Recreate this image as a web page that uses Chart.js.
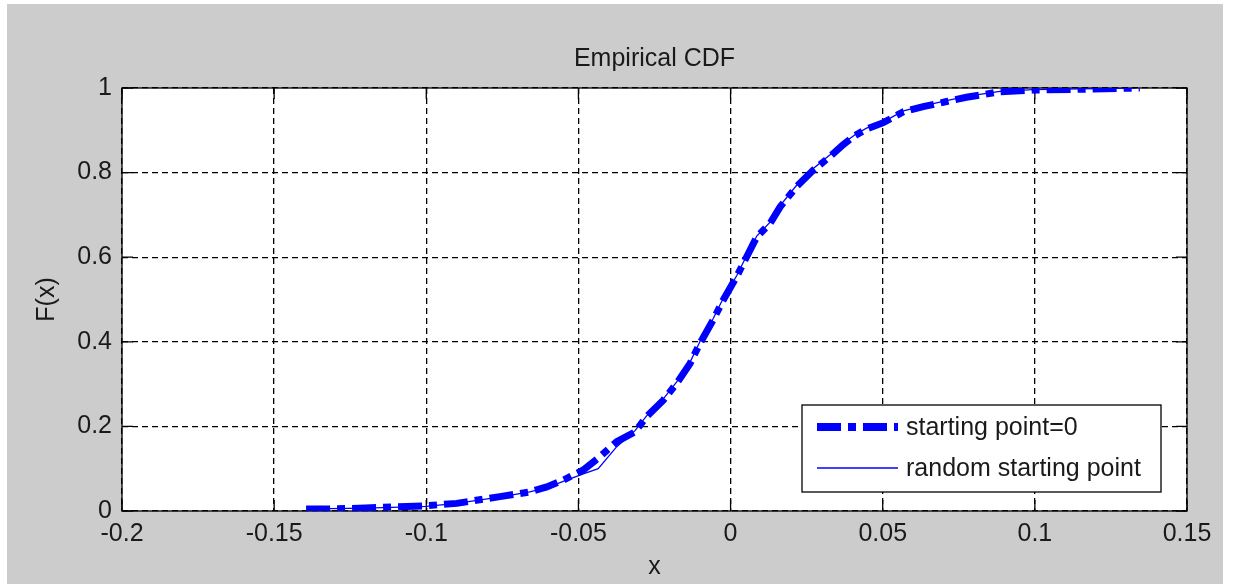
<!DOCTYPE html>
<html lang="en">
<head>
    <meta charset="UTF-8">
    <title>Empirical CDF</title>
    <style>
        body {
            margin: 0;
            padding: 0;
            background-color: #ffffff;
        }
        #cdfChart {
            display: block;
        }
    </style>
    <script src="https://cdn.jsdelivr.net/npm/chart.js"></script>
</head>
<body>
    <canvas id="cdfChart" width="1233" height="584"></canvas>

    <script>
        // axis ticks
        const xTickValues = [-0.2, -0.15, -0.1, -0.05, 0, 0.05, 0.1, 0.15];
        const xTickLabels = ['-0.2', '-0.15', '-0.1', '-0.05', '0', '0.05', '0.1', '0.15'];
        const yTickValues = [0, 0.2, 0.4, 0.6, 0.8, 1];
        const yTickLabels = ['0', '0.2', '0.4', '0.6', '0.8', '1'];

        // empirical CDF, starting point = 0
        const xStart = [-0.1395, -0.13, -0.12, -0.11, -0.101, -0.09, -0.0758, -0.066, -0.0604, -0.055,
            -0.0484, -0.0435, -0.0374, -0.0314, -0.0276, -0.0221, -0.0177, -0.0133, -0.0101, -0.0057,
            -0.0024, 0.002, 0.0053, 0.0086, 0.013, 0.0163, 0.0217, 0.0272, 0.0327, 0.037,
            0.041, 0.0447, 0.0502, 0.0568, 0.0633, 0.071, 0.0775, 0.0885, 0.0994, 0.115, 0.1345];
        const yStart = [0.005, 0.005, 0.007, 0.010, 0.012, 0.018, 0.034, 0.045, 0.057, 0.073,
            0.097, 0.125, 0.164, 0.187, 0.223, 0.262, 0.302, 0.349, 0.396, 0.452,
            0.499, 0.554, 0.601, 0.648, 0.680, 0.719, 0.767, 0.806, 0.838, 0.866,
            0.888, 0.903, 0.918, 0.944, 0.956, 0.968, 0.978, 0.991, 0.995, 0.997, 1.0];

        // empirical CDF, random starting point
        const xRandom = [-0.138, -0.12, -0.1, -0.09, -0.076, -0.066, -0.06, -0.055, -0.0484, -0.0435,
            -0.0374, -0.0314, -0.0276, -0.0221, -0.0177, -0.0133, -0.0101, -0.0057, -0.0024, 0.002,
            0.0053, 0.0086, 0.013, 0.0163, 0.0217, 0.0272, 0.0327, 0.037, 0.041, 0.0447, 0.0502,
            0.0568, 0.0633, 0.071, 0.0775, 0.0885, 0.0994, 0.115, 0.133];
        const yRandom = [0.005, 0.007, 0.011, 0.018, 0.033, 0.045, 0.056, 0.07, 0.088, 0.1,
            0.152, 0.19, 0.225, 0.265, 0.305, 0.352, 0.4, 0.455, 0.503, 0.556,
            0.604, 0.65, 0.683, 0.722, 0.77, 0.81, 0.842, 0.869, 0.89, 0.905, 0.92,
            0.946, 0.958, 0.97, 0.98, 0.992, 0.996, 0.998, 1.0];

        const seriesNames = ['starting point=0', 'random starting point'];

        const lineBlue = '#0000ff';
        const dashStyle = [24, 7, 8, 7];
        const textColor = '#1a1a1a';

        Chart.defaults.font.family = "'Liberation Sans', Arial, sans-serif";
        Chart.defaults.font.size = 25;
        Chart.defaults.color = textColor;

        const toPoints = (xs, ys) => xs.map((x, i) => ({ x: x, y: ys[i] }));

        // grey figure background, white axes, box, inward ticks and legend
        const matlabFrame = {
            id: 'matlabFrame',
            beforeDraw(chart) {
                const { ctx, chartArea: a } = chart;
                ctx.save();
                ctx.fillStyle = '#cccccc';
                ctx.fillRect(7, 4, 1216, 580);
                ctx.fillStyle = '#ffffff';
                ctx.fillRect(a.left, a.top, a.right - a.left, a.bottom - a.top);
                ctx.restore();
            },
            beforeDatasetsDraw(chart) {
                const { ctx, chartArea: a, scales } = chart;
                const tick = 11;
                ctx.save();
                ctx.strokeStyle = '#000000';
                ctx.lineWidth = 1.3;
                ctx.beginPath();
                xTickValues.forEach(v => {
                    const px = scales.x.getPixelForValue(v);
                    ctx.moveTo(px, a.bottom);
                    ctx.lineTo(px, a.bottom - tick);
                    ctx.moveTo(px, a.top);
                    ctx.lineTo(px, a.top + tick);
                });
                yTickValues.forEach(v => {
                    const py = scales.y.getPixelForValue(v);
                    ctx.moveTo(a.left, py);
                    ctx.lineTo(a.left + tick, py);
                    ctx.moveTo(a.right, py);
                    ctx.lineTo(a.right - tick, py);
                });
                ctx.stroke();
                ctx.strokeRect(a.left, a.top, a.right - a.left, a.bottom - a.top);
                ctx.restore();
            },
            afterDraw(chart) {
                const { ctx, chartArea: a } = chart;
                const w = 359, h = 87;
                const bx = a.right - 26 - w;
                const by = a.bottom - 19 - h;
                ctx.save();
                ctx.fillStyle = '#ffffff';
                ctx.fillRect(bx, by, w, h);
                ctx.strokeStyle = '#000000';
                ctx.lineWidth = 1.3;
                ctx.strokeRect(bx, by, w, h);

                const sx1 = bx + 15, sx2 = bx + 96;
                const rows = [by + 22, by + 63];
                const widths = [8, 1.3];
                const dashes = [dashStyle, []];
                rows.forEach((ry, i) => {
                    ctx.beginPath();
                    ctx.strokeStyle = lineBlue;
                    ctx.lineWidth = widths[i];
                    ctx.lineCap = 'butt';
                    ctx.setLineDash(dashes[i]);
                    ctx.moveTo(sx1, ry);
                    ctx.lineTo(sx2, ry);
                    ctx.stroke();
                    ctx.setLineDash([]);
                    ctx.fillStyle = textColor;
                    ctx.font = "25px 'Liberation Sans', Arial, sans-serif";
                    ctx.textBaseline = 'middle';
                    ctx.textAlign = 'left';
                    ctx.fillText(seriesNames[i], bx + 104, ry + 1);
                });
                ctx.restore();
            }
        };

        new Chart(document.getElementById('cdfChart'), {
            type: 'scatter',
            data: {
                datasets: [
                    {
                        label: seriesNames[0],
                        data: toPoints(xStart, yStart),
                        showLine: true,
                        borderColor: lineBlue,
                        backgroundColor: lineBlue,
                        borderWidth: 7,
                        borderDash: dashStyle,
                        borderCapStyle: 'butt',
                        pointRadius: 0,
                        tension: 0
                    },
                    {
                        label: seriesNames[1],
                        data: toPoints(xRandom, yRandom),
                        showLine: true,
                        borderColor: lineBlue,
                        backgroundColor: lineBlue,
                        borderWidth: 1.3,
                        pointRadius: 0,
                        tension: 0
                    }
                ]
            },
            options: {
                responsive: false,
                animation: false,
                layout: {
                    padding: { left: 0, right: 46, top: 0, bottom: 0 }
                },
                plugins: {
                    legend: { display: false },
                    tooltip: { enabled: false },
                    title: {
                        display: true,
                        text: 'Empirical CDF',
                        fullSize: false,
                        color: textColor,
                        font: { size: 25, weight: 'normal', lineHeight: 1.2 },
                        padding: { top: 44, bottom: 14 }
                    }
                },
                scales: {
                    x: {
                        type: 'linear',
                        min: -0.2,
                        max: 0.15,
                        afterBuildTicks: s => { s.ticks = xTickValues.map(v => ({ value: v })); },
                        afterFit: s => { s.height = 73; },
                        ticks: {
                            autoSkip: false,
                            maxRotation: 0,
                            padding: 8,
                            color: textColor,
                            font: { size: 25, lineHeight: 1.2 },
                            callback: (v, i) => xTickLabels[i]
                        },
                        grid: {
                            color: '#000000',
                            lineWidth: 1.3,
                            drawTicks: false
                        },
                        border: { display: false, dash: [6, 4] },
                        title: {
                            display: true,
                            text: 'x',
                            color: textColor,
                            font: { size: 25, lineHeight: 1.2 },
                            padding: { top: 0, bottom: 2 }
                        }
                    },
                    y: {
                        type: 'linear',
                        min: 0,
                        max: 1,
                        afterBuildTicks: s => { s.ticks = yTickValues.map(v => ({ value: v })); },
                        afterFit: s => { s.width = 122; },
                        ticks: {
                            autoSkip: false,
                            padding: 10,
                            color: textColor,
                            font: { size: 25, lineHeight: 1.2 },
                            callback: (v, i) => yTickLabels[i]
                        },
                        grid: {
                            color: '#000000',
                            lineWidth: 1.3,
                            drawTicks: false
                        },
                        border: { display: false, dash: [6, 4] },
                        title: {
                            display: true,
                            text: 'F(x)',
                            color: textColor,
                            font: { size: 25, lineHeight: 1.2 },
                            padding: { top: 32, bottom: 0 }
                        }
                    }
                }
            },
            plugins: [matlabFrame]
        });
    </script>
</body>
</html>
